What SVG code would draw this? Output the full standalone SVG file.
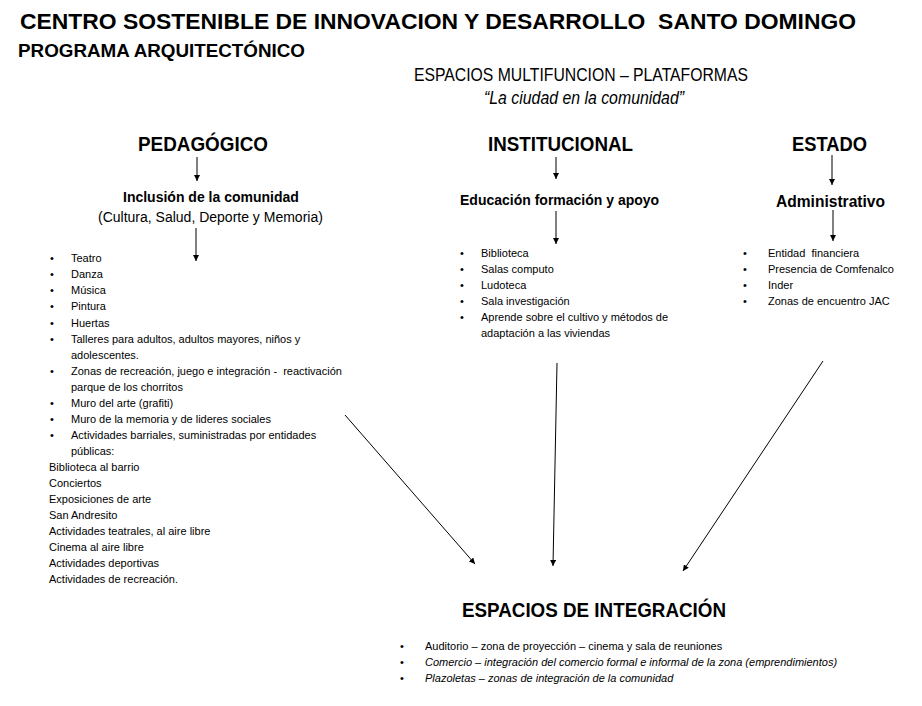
<svg xmlns="http://www.w3.org/2000/svg" width="922" height="706" viewBox="0 0 922 706">
<defs>
<marker id="ah" viewBox="0 0 10 10" refX="10" refY="5" markerWidth="6" markerHeight="6" markerUnits="userSpaceOnUse" orient="auto">
<path d="M0,0 L10,5 L0,10 z" fill="#000"/>
</marker>
<style>
text{font-family:"Liberation Sans",Arial,sans-serif;fill:#000}
.b{font-weight:bold}
.li{font-size:11px}
.it{font-style:italic}
.h{font-size:20px;font-weight:bold}
.c{stroke:#000;stroke-width:1;fill:none;marker-end:url(#ah)}
</style>
</defs>
<rect width="922" height="706" fill="#fff"/>
<g id="title">
<text x="20" y="29" class="b" font-size="22" textLength="836" lengthAdjust="spacingAndGlyphs" xml:space="preserve">CENTRO SOSTENIBLE DE INNOVACION Y DESARROLLO  SANTO DOMINGO</text>
<text x="18" y="57" class="b" font-size="19" textLength="287" lengthAdjust="spacingAndGlyphs">PROGRAMA ARQUITECTÓNICO</text>
<text x="414" y="81" font-size="19" textLength="334" lengthAdjust="spacingAndGlyphs">ESPACIOS MULTIFUNCION – PLATAFORMAS</text>
<text x="484" y="104" class="it" font-size="19" textLength="200" lengthAdjust="spacingAndGlyphs">“La ciudad en la comunidad”</text>
</g>
<g id="pedagogico">
<text x="138" y="151" class="h" textLength="130" lengthAdjust="spacingAndGlyphs">PEDAGÓGICO</text>
</g>
<g id="institucional">
<text x="488" y="151" class="h" textLength="145" lengthAdjust="spacingAndGlyphs">INSTITUCIONAL</text>
</g>
<g id="estado">
<text x="792" y="151" class="h" textLength="75" lengthAdjust="spacingAndGlyphs">ESTADO</text>
</g>
<g id="inclusion">
<text x="123" y="202" class="b" font-size="14">Inclusión de la comunidad</text>
<text x="98" y="222" font-size="14">(Cultura, Salud, Deporte y Memoria)</text>
</g>
<g id="educacion">
<text x="460" y="205" class="b" font-size="14">Educación formación y apoyo</text>
</g>
<g id="administrativo">
<text x="776" y="207" class="b" font-size="16" textLength="109" lengthAdjust="spacingAndGlyphs">Administrativo</text>
</g>
<g id="lista-pedagogico" class="li">
<text x="50" y="262" class="li">•</text><text x="71" y="262" class="li">Teatro</text>
<text x="50" y="278" class="li">•</text><text x="71" y="278" class="li">Danza</text>
<text x="50" y="294" class="li">•</text><text x="71" y="294" class="li">Música</text>
<text x="50" y="310" class="li">•</text><text x="71" y="310" class="li">Pintura</text>
<text x="50" y="327" class="li">•</text><text x="71" y="327" class="li">Huertas</text>
<text x="50" y="343" class="li">•</text><text x="71" y="343" class="li">Talleres para adultos, adultos mayores, niños y</text>
<text x="71" y="359" class="li">adolescentes.</text>
<text x="50" y="375" class="li">•</text><text x="71" y="375" class="li" xml:space="preserve">Zonas de recreación, juego e integración -  reactivación</text>
<text x="71" y="391" class="li">parque de los chorritos</text>
<text x="50" y="407" class="li">•</text><text x="71" y="407" class="li">Muro del arte (grafiti)</text>
<text x="50" y="423" class="li">•</text><text x="71" y="423" class="li">Muro de la memoria y de lideres sociales</text>
<text x="50" y="439" class="li">•</text><text x="71" y="439" class="li">Actividades barriales, suministradas por entidades</text>
<text x="71" y="455" class="li">públicas:</text>
<text x="49" y="471" class="li">Biblioteca al barrio</text>
<text x="49" y="487" class="li">Conciertos</text>
<text x="49" y="503" class="li">Exposiciones de arte</text>
<text x="49" y="519" class="li">San Andresito</text>
<text x="49" y="535" class="li">Actividades teatrales, al aire libre</text>
<text x="49" y="551" class="li">Cinema al aire libre</text>
<text x="49" y="567" class="li">Actividades deportivas</text>
<text x="49" y="583" class="li">Actividades de recreación.</text>
</g>
<g id="lista-institucional">
<text x="460" y="257" class="li">•</text><text x="481" y="257" class="li">Biblioteca</text>
<text x="460" y="273" class="li">•</text><text x="481" y="273" class="li">Salas computo</text>
<text x="460" y="289" class="li">•</text><text x="481" y="289" class="li">Ludoteca</text>
<text x="460" y="305" class="li">•</text><text x="481" y="305" class="li">Sala investigación</text>
<text x="460" y="321" class="li">•</text><text x="481" y="321" class="li">Aprende sobre el cultivo y métodos de</text>
<text x="481" y="337" class="li">adaptación a las viviendas</text>
</g>
<g id="lista-estado">
<text x="743" y="257" class="li">•</text><text x="768" y="257" class="li" xml:space="preserve">Entidad  financiera</text>
<text x="743" y="273" class="li">•</text><text x="768" y="273" class="li">Presencia de Comfenalco</text>
<text x="743" y="289" class="li">•</text><text x="768" y="289" class="li">Inder</text>
<text x="743" y="305" class="li">•</text><text x="768" y="305" class="li">Zonas de encuentro JAC</text>
</g>
<g id="integracion">
<text x="462" y="617" class="b" font-size="21" textLength="264" lengthAdjust="spacingAndGlyphs">ESPACIOS DE INTEGRACIÓN</text>
<text x="400" y="650" class="li">•</text><text x="425" y="650" class="li">Auditorio – zona de proyección – cinema y sala de reuniones</text>
<text x="400" y="666" class="li">•</text><text x="425" y="666" class="li it">Comercio – integración del comercio formal e informal de la zona (emprendimientos)</text>
<text x="400" y="682" class="li">•</text><text x="425" y="682" class="li it">Plazoletas – zonas de integración de la comunidad</text>
</g>
<g id="connectors">
<line class="c" x1="197" y1="157" x2="197" y2="181"/>
<line class="c" x1="196" y1="228" x2="196" y2="261"/>
<line class="c" x1="556" y1="157" x2="556" y2="179"/>
<line class="c" x1="556" y1="211" x2="556" y2="244"/>
<line class="c" x1="832" y1="155" x2="832" y2="185"/>
<line class="c" x1="833" y1="210" x2="833" y2="241"/>
<line class="c" x1="345" y1="415" x2="475" y2="564"/>
<line class="c" x1="557" y1="363" x2="553" y2="566"/>
<line class="c" x1="823" y1="361" x2="683" y2="571"/>
</g>
</svg>
